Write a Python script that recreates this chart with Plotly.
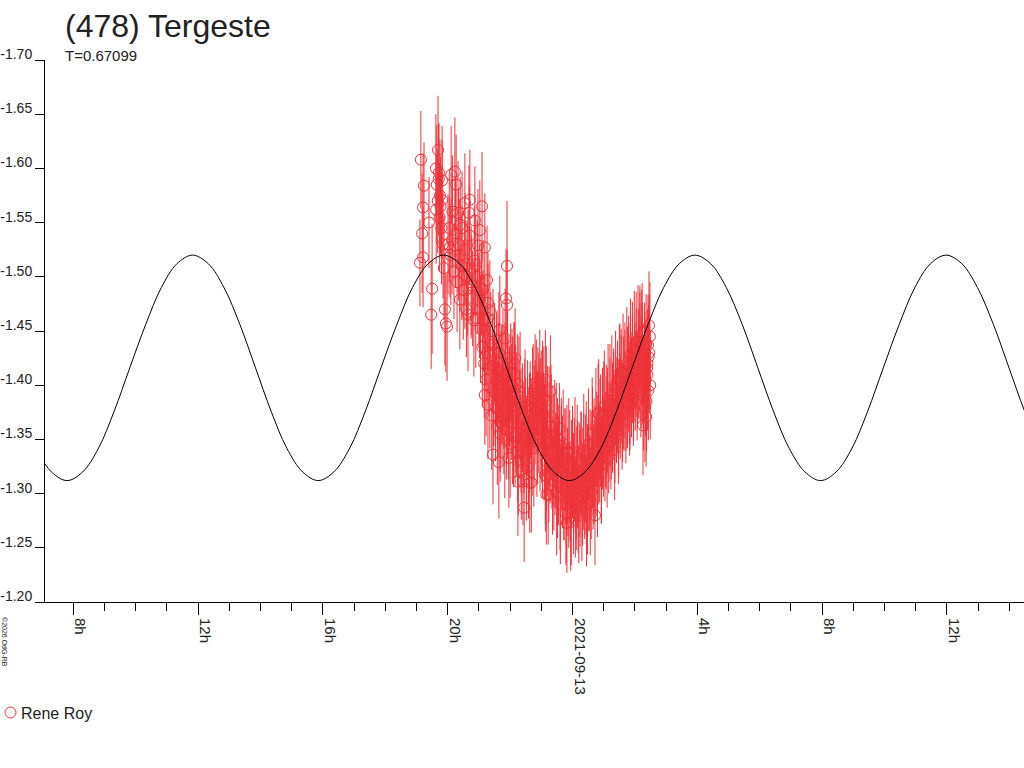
import pandas as pd
import plotly.graph_objects as go

# lightcurve of (478) Tergeste, times in hours from 2021-09-12 00:00 UT
BASE = pd.Timestamp("2021-09-12 00:00")

obs_hours = [
    19.11, 19.14, 19.18, 19.21, 19.21, 19.24, 19.40, 19.47, 19.50, 19.62,
    19.63, 19.65, 19.68, 19.69, 19.71, 19.72, 19.74, 19.75, 19.77, 19.80,
    19.82, 19.82, 19.85, 19.88, 19.91, 19.94, 19.98, 20.01, 20.05, 20.07,
    20.10, 20.11, 20.14, 20.15, 20.20, 20.23, 20.25, 20.27, 20.30, 20.33,
    20.35, 20.39, 20.39, 20.40, 20.45, 20.46, 20.50, 20.55, 20.55, 20.55,
    20.60, 20.62, 20.62, 20.65, 20.65, 20.68, 20.70, 20.71, 20.75, 20.77,
    20.80, 20.84, 20.85, 20.87, 20.90, 20.90, 20.95, 20.97, 21.00, 21.02,
    21.03, 21.05, 21.08, 21.10, 21.11, 21.13, 21.14, 21.17, 21.19, 21.19,
    21.19, 21.20, 21.23, 21.26, 21.26, 21.29, 21.29, 21.29, 21.32, 21.35,
    21.35, 21.38, 21.41, 21.44, 21.45, 21.45, 21.47, 21.50, 21.53, 21.56,
    21.58, 21.59, 21.62, 21.64, 21.65, 21.67, 21.68, 21.71, 21.74, 21.77,
    21.77, 21.80, 21.83, 21.84, 21.86, 21.87, 21.89, 21.90, 21.90, 21.92,
    21.95, 21.96, 21.98, 22.02, 22.05, 22.06, 22.08, 22.11, 22.14, 22.16,
    22.17, 22.20, 22.23, 22.25, 22.26, 22.29, 22.32, 22.35, 22.38, 22.41,
    22.44, 22.45, 22.47, 22.50, 22.53, 22.56, 22.59, 22.62, 22.63, 22.65,
    22.68, 22.71, 22.74, 22.77, 22.80, 22.83, 22.86, 22.89, 22.92, 22.95,
    22.98, 23.01, 23.04, 23.07, 23.10, 23.13, 23.13, 23.13, 23.16, 23.16,
    23.19, 23.22, 23.25, 23.28, 23.29, 23.31, 23.34, 23.37, 23.40, 23.43,
    23.46, 23.49, 23.52, 23.55, 23.58, 23.61, 23.64, 23.67, 23.70, 23.73,
    23.76, 23.79, 23.82, 23.82, 23.85, 23.88, 23.91, 23.94, 23.97, 24.00,
    24.03, 24.06, 24.09, 24.12, 24.15, 24.18, 24.21, 24.24, 24.27, 24.30,
    24.33, 24.36, 24.39, 24.42, 24.45, 24.48, 24.51, 24.54, 24.57, 24.60,
    24.63, 24.66, 24.69, 24.72, 24.72, 24.75, 24.78, 24.81, 24.82, 24.84,
    24.87, 24.90, 24.93, 24.96, 24.99, 25.02, 25.05, 25.08, 25.11, 25.14,
    25.17, 25.20, 25.23, 25.26, 25.29, 25.32, 25.35, 25.38, 25.41, 25.44,
    25.47, 25.50, 25.52, 25.53, 25.56, 25.59, 25.62, 25.65, 25.68, 25.71,
    25.74, 25.77, 25.80, 25.83, 25.84, 25.86, 25.89, 25.92, 25.95, 25.98,
    26.01, 26.04, 26.07, 26.10, 26.13, 26.16, 26.16, 26.19, 26.22, 26.23,
    26.25, 26.26, 26.28, 26.31, 26.32, 26.34, 26.36, 26.37, 26.39, 26.40,
    26.42, 26.43, 26.45, 26.46, 26.49,
    # second night block, interleaved
    21.52, 21.56, 21.60, 21.64, 21.68, 21.72, 21.76, 21.80, 21.84, 21.88,
    21.92, 21.96, 22.00, 22.04, 22.08, 22.12, 22.16, 22.20, 22.24, 22.28,
    22.32, 22.36, 22.40, 22.44, 22.48, 22.52, 22.56, 22.60, 22.64, 22.68,
    22.72, 22.76, 22.80, 22.84, 22.88, 22.92, 22.96, 23.00, 23.04, 23.08,
    23.12, 23.16, 23.20, 23.24, 23.28, 23.32, 23.36, 23.40, 23.44, 23.48,
    23.52, 23.56, 23.60, 23.64, 23.68, 23.72, 23.76, 23.80, 23.84, 23.88,
    23.92, 23.96, 24.00, 24.04, 24.08, 24.12, 24.16, 24.20, 24.24, 24.28,
    24.32, 24.36, 24.40, 24.44, 24.48, 24.52, 24.56, 24.60, 24.64, 24.68,
    24.72, 24.76, 24.80, 24.84, 24.88, 24.92, 24.96, 25.00, 25.04, 25.08,
    25.12, 25.16, 25.20, 25.24, 25.28, 25.32, 25.36, 25.40, 25.44, 25.48,
    25.52, 25.56, 25.60, 25.64, 25.68, 25.72, 25.76, 25.80, 25.84, 25.88,
    25.92, 25.96, 26.00, 26.04, 26.08, 26.12, 26.16, 26.20, 26.24, 26.28,
    26.32, 26.36, 26.40, 26.44, 26.48,
]
obs_mag = [
    -1.513, -1.608, -1.540, -1.564, -1.518, -1.584, -1.550, -1.465, -1.489, -1.600,
    -1.562, -1.585, -1.570, -1.617, -1.590, -1.596, -1.555, -1.575, -1.565, -1.545,
    -1.589, -1.571, -1.530, -1.508, -1.470, -1.457, -1.454, -1.530, -1.545, -1.527,
    -1.520, -1.594, -1.534, -1.560, -1.505, -1.597, -1.540, -1.585, -1.495, -1.559,
    -1.530, -1.520, -1.479, -1.548, -1.510, -1.545, -1.488, -1.568, -1.525, -1.502,
    -1.470, -1.500, -1.489, -1.465, -1.512, -1.559, -1.538, -1.571, -1.495, -1.492,
    -1.480, -1.460, -1.515, -1.552, -1.511, -1.462, -1.500, -1.529, -1.478, -1.470,
    -1.543, -1.452, -1.488, -1.565, -1.435, -1.488, -1.460, -1.420, -1.527, -1.451,
    -1.391, -1.445, -1.405, -1.497, -1.430, -1.476, -1.462, -1.382, -1.415, -1.469,
    -1.398, -1.440, -1.372, -1.418, -1.437, -1.336, -1.395, -1.430, -1.380, -1.405,
    -1.423, -1.362, -1.412, -1.329, -1.388, -1.451, -1.355, -1.398, -1.372, -1.420,
    -1.409, -1.385, -1.350, -1.443, -1.402, -1.480, -1.376, -1.510, -1.474, -1.425,
    -1.365, -1.333, -1.390, -1.412, -1.371, -1.400, -1.395, -1.348, -1.420, -1.425,
    -1.382, -1.356, -1.401, -1.311, -1.330, -1.374, -1.389, -1.345, -1.368, -1.311,
    -1.352, -1.287, -1.379, -1.362, -1.338, -1.381, -1.325, -1.356, -1.310, -1.372,
    -1.310, -1.348, -1.395, -1.366, -1.402, -1.378, -1.355, -1.391, -1.369, -1.405,
    -1.383, -1.360, -1.394, -1.372, -1.348, -1.317, -1.405, -1.317, -1.386, -1.299,
    -1.340, -1.299, -1.362, -1.335, -1.394, -1.371, -1.326, -1.348, -1.312, -1.355,
    -1.330, -1.301, -1.342, -1.321, -1.360, -1.290, -1.333, -1.315, -1.346, -1.303,
    -1.327, -1.282, -1.338, -1.273, -1.311, -1.296, -1.325, -1.274, -1.318, -1.337,
    -1.300, -1.322, -1.287, -1.310, -1.338, -1.295, -1.320, -1.305, -1.331, -1.288,
    -1.315, -1.340, -1.302, -1.323, -1.281, -1.318, -1.345, -1.310, -1.293, -1.330,
    -1.355, -1.312, -1.338, -1.320, -1.280, -1.362, -1.327, -1.345, -1.374, -1.374,
    -1.336, -1.358, -1.319, -1.366, -1.343, -1.380, -1.350, -1.369, -1.333, -1.386,
    -1.357, -1.375, -1.348, -1.392, -1.365, -1.381, -1.340, -1.398, -1.372, -1.387,
    -1.355, -1.404, -1.407, -1.378, -1.396, -1.366, -1.412, -1.385, -1.401, -1.374,
    -1.420, -1.390, -1.407, -1.381, -1.396, -1.428, -1.398, -1.415, -1.388, -1.433,
    -1.404, -1.421, -1.395, -1.440, -1.412, -1.446, -1.425, -1.398, -1.436, -1.448,
    -1.410, -1.363, -1.390, -1.430, -1.379, -1.405, -1.371, -1.385, -1.416, -1.420,
    -1.437, -1.395, -1.455, -1.430, -1.400,
    -1.392, -1.415, -1.378, -1.430, -1.366, -1.405, -1.388, -1.372, -1.410, -1.359,
    -1.384, -1.401, -1.346, -1.392, -1.365, -1.410, -1.352, -1.377, -1.338, -1.395,
    -1.360, -1.322, -1.370, -1.348, -1.385, -1.331, -1.362, -1.345, -1.378, -1.356,
    -1.389, -1.342, -1.375, -1.398, -1.361, -1.384, -1.352, -1.376, -1.340, -1.388,
    -1.355, -1.330, -1.368, -1.318, -1.347, -1.362, -1.308, -1.340, -1.324, -1.352,
    -1.315, -1.336, -1.298, -1.344, -1.320, -1.305, -1.332, -1.290, -1.316, -1.338,
    -1.302, -1.286, -1.325, -1.308, -1.333, -1.294, -1.318, -1.280, -1.312, -1.327,
    -1.298, -1.320, -1.306, -1.335, -1.290, -1.317, -1.330, -1.302, -1.342, -1.318,
    -1.331, -1.350, -1.312, -1.338, -1.360, -1.326, -1.348, -1.372, -1.339, -1.356,
    -1.368, -1.344, -1.382, -1.359, -1.371, -1.390, -1.362, -1.378, -1.395, -1.370,
    -1.386, -1.402, -1.375, -1.393, -1.410, -1.384, -1.398, -1.418, -1.390, -1.405,
    -1.425, -1.397, -1.412, -1.432, -1.405, -1.420, -1.440, -1.412, -1.428, -1.402,
    -1.418, -1.438, -1.410, -1.426, -1.445,
]
obs_err = [
    0.040, 0.045, 0.055, 0.050, 0.046, 0.040, 0.042, 0.050, 0.060, 0.050,
    0.050, 0.055, 0.048, 0.050, 0.052, 0.045, 0.050, 0.052, 0.046, 0.052,
    0.050, 0.055, 0.050, 0.048, 0.052, 0.045, 0.050, 0.046, 0.050, 0.046,
    0.046, 0.045, 0.050, 0.052, 0.044, 0.050, 0.050, 0.046, 0.046, 0.048,
    0.052, 0.052, 0.046, 0.044, 0.050, 0.052, 0.046, 0.046, 0.052, 0.050,
    0.044, 0.052, 0.044, 0.052, 0.050, 0.044, 0.046, 0.046, 0.052, 0.046,
    0.044, 0.052, 0.050, 0.050, 0.046, 0.046, 0.052, 0.052, 0.044, 0.045,
    0.046, 0.050, 0.042, 0.050, 0.055, 0.046, 0.046, 0.050, 0.050, 0.050,
    0.046, 0.044, 0.052, 0.050, 0.046, 0.046, 0.050, 0.050, 0.044, 0.046,
    0.056, 0.046, 0.050, 0.044, 0.052, 0.046, 0.052, 0.046, 0.050, 0.044,
    0.046, 0.054, 0.046, 0.052, 0.050, 0.050, 0.044, 0.052, 0.046, 0.050,
    0.046, 0.044, 0.054, 0.046, 0.046, 0.046, 0.050, 0.060, 0.050, 0.044,
    0.052, 0.046, 0.046, 0.045, 0.040, 0.052, 0.050, 0.042, 0.038, 0.046,
    0.055, 0.040, 0.046, 0.050, 0.050, 0.042, 0.060, 0.044, 0.048, 0.040,
    0.052, 0.050, 0.045, 0.045, 0.050, 0.042, 0.048, 0.055, 0.046, 0.040,
    0.046, 0.050, 0.043, 0.052, 0.045, 0.040, 0.058, 0.044, 0.050, 0.046,
    0.042, 0.050, 0.047, 0.040, 0.053, 0.045, 0.046, 0.052, 0.050, 0.046,
    0.042, 0.046, 0.055, 0.044, 0.052, 0.048, 0.040, 0.052, 0.046, 0.050,
    0.044, 0.058, 0.046, 0.050, 0.042, 0.055, 0.048, 0.044, 0.050, 0.046,
    0.052, 0.048, 0.044, 0.046, 0.050, 0.046, 0.052, 0.045, 0.050, 0.044,
    0.056, 0.048, 0.046, 0.052, 0.044, 0.050, 0.046, 0.054, 0.045, 0.050,
    0.046, 0.052, 0.044, 0.050, 0.048, 0.046, 0.052, 0.044, 0.050, 0.046,
    0.052, 0.045, 0.050, 0.046, 0.046, 0.054, 0.048, 0.046, 0.046, 0.050,
    0.044, 0.052, 0.046, 0.050, 0.046, 0.052, 0.044, 0.050, 0.046, 0.052,
    0.046, 0.050, 0.044, 0.054, 0.046, 0.050, 0.046, 0.052, 0.044, 0.050,
    0.046, 0.052, 0.050, 0.046, 0.050, 0.044, 0.054, 0.046, 0.050, 0.046,
    0.052, 0.044, 0.050, 0.046, 0.050, 0.052, 0.046, 0.050, 0.044, 0.054,
    0.046, 0.050, 0.046, 0.052, 0.044, 0.046, 0.050, 0.046, 0.052, 0.046,
    0.046, 0.046, 0.050, 0.046, 0.050, 0.052, 0.046, 0.046, 0.046, 0.050,
    0.046, 0.046, 0.050, 0.054, 0.050,
    0.048, 0.052, 0.044, 0.056, 0.046, 0.050, 0.042, 0.054, 0.048, 0.046,
    0.052, 0.044, 0.050, 0.046, 0.056, 0.048, 0.044, 0.052, 0.046, 0.050,
    0.054, 0.046, 0.050, 0.042, 0.048, 0.056, 0.046, 0.052, 0.044, 0.050,
    0.046, 0.054, 0.048, 0.044, 0.052, 0.046, 0.050, 0.056, 0.044, 0.048,
    0.052, 0.046, 0.050, 0.044, 0.054, 0.048, 0.046, 0.052, 0.044, 0.050,
    0.056, 0.046, 0.050, 0.044, 0.052, 0.048, 0.046, 0.054, 0.044, 0.050,
    0.046, 0.052, 0.048, 0.044, 0.056, 0.046, 0.050, 0.044, 0.052, 0.048,
    0.046, 0.054, 0.044, 0.050, 0.046, 0.052, 0.048, 0.044, 0.056, 0.046,
    0.050, 0.044, 0.052, 0.048, 0.046, 0.054, 0.044, 0.050, 0.046, 0.052,
    0.048, 0.044, 0.056, 0.046, 0.050, 0.044, 0.052, 0.048, 0.046, 0.054,
    0.044, 0.050, 0.046, 0.052, 0.048, 0.044, 0.056, 0.046, 0.050, 0.044,
    0.052, 0.048, 0.046, 0.054, 0.044, 0.050, 0.046, 0.052, 0.048, 0.044,
    0.050, 0.046, 0.052, 0.048, 0.050,
]

# fitted model (T = 0.67099 d, two maxima per rotation), read at 1/16-cycle steps
model_hours = [
    6.79, 7.30,
    7.80, 8.30, 8.81, 9.31, 9.81, 10.32, 10.82, 11.32,
    11.82, 12.33, 12.83, 13.34, 13.84, 14.34, 14.84, 15.35,
    15.85, 16.35, 16.86, 17.36, 17.86, 18.37, 18.87, 19.37,
    19.87, 20.38, 20.88, 21.39, 21.89, 22.39, 22.89, 23.40,
    23.90, 24.40, 24.91, 25.41, 25.91, 26.42, 26.92, 27.42,
    27.92, 28.43, 28.93, 29.44, 29.94, 30.44, 30.94, 31.45,
    31.95, 32.45, 32.96, 33.46, 33.96, 34.47, 34.97, 35.47,
    35.97, 36.48, 36.98, 37.49, 37.99, 38.49, 38.99,
]
model_mag = [
    -1.342, -1.320,
    -1.312, -1.320, -1.342, -1.376, -1.416, -1.456, -1.490, -1.512,
    -1.520, -1.512, -1.490, -1.456, -1.416, -1.376, -1.342, -1.320,
    -1.312, -1.320, -1.342, -1.376, -1.416, -1.456, -1.490, -1.512,
    -1.520, -1.512, -1.490, -1.456, -1.416, -1.376, -1.342, -1.320,
    -1.312, -1.320, -1.342, -1.376, -1.416, -1.456, -1.490, -1.512,
    -1.520, -1.512, -1.490, -1.456, -1.416, -1.376, -1.342, -1.320,
    -1.312, -1.320, -1.342, -1.376, -1.416, -1.456, -1.490, -1.512,
    -1.520, -1.512, -1.490, -1.456, -1.416, -1.376, -1.342,
]

y_ticks = [-1.70, -1.65, -1.60, -1.55, -1.50, -1.45, -1.40, -1.35, -1.30, -1.25, -1.20]
y_ticktext = ["-1.70", "-1.65", "-1.60", "-1.55", "-1.50", "-1.45", "-1.40",
              "-1.35", "-1.30", "-1.25", "-1.20"]
x_tick_hours = [8, 12, 16, 20, 24, 28, 32, 36]
x_ticktext = ["8h", "12h", "16h", "20h", "2021-09-13", "4h", "8h", "12h"]

RED = "#EE3239"
FONT = "Liberation Sans, Arial, sans-serif"


def _t(hours):
    return BASE + pd.to_timedelta(pd.Series(hours), unit="h")


fig = go.Figure()
fig.add_trace(go.Scatter(
    x=_t(obs_hours), y=obs_mag, mode="markers", name="Rene Roy",
    marker=dict(symbol="circle-open", size=11, color=RED, line=dict(width=1, color=RED)),
    error_y=dict(type="data", array=obs_err, visible=True, color=RED, thickness=1, width=0),
    showlegend=False,
))
fig.add_trace(go.Scatter(
    x=_t(model_hours), y=model_mag, mode="lines",
    line=dict(color="black", width=1, shape="spline"),
    showlegend=False, hoverinfo="skip",
))

fig.update_layout(
    width=1024, height=768,
    margin=dict(l=45, r=0, t=60, b=166),
    paper_bgcolor="white", plot_bgcolor="white",
    font=dict(family=FONT, size=16, color="#222222"),
    xaxis=dict(
        range=[BASE + pd.Timedelta(hours=7.093), BASE + pd.Timedelta(hours=38.47)],
        tickmode="array", tickvals=list(_t(x_tick_hours)), ticktext=x_ticktext,
        tickfont=dict(size=15),
        tickangle=90, ticks="outside", ticklen=12, tickwidth=1, tickcolor="black",
        ticklabelshift=7, ticklabelstandoff=0, automargin=False,
        minor=dict(tickmode="linear", tick0=BASE, dtick=3600000, ticks="outside",
                   ticklen=8, tickwidth=1, tickcolor="black", showgrid=False),
        showline=True, linecolor="black", linewidth=1,
        showgrid=False, zeroline=False,
    ),
    yaxis=dict(
        range=[-1.20, -1.70],
        tickmode="array", tickvals=y_ticks, ticktext=y_ticktext,
        tickfont=dict(size=14),
        ticks="outside", ticklen=9, tickwidth=1, tickcolor="black",
        ticklabelshift=6, ticklabelstandoff=0, automargin=False,
        showline=True, linecolor="black", linewidth=1,
        showgrid=False, zeroline=False,
    ),
    annotations=[
        dict(text="(478) Tergeste", xref="paper", yref="paper", x=0, y=1,
             xanchor="left", yanchor="middle", xshift=18, yshift=34,
             showarrow=False, font=dict(size=32, color="#222222")),
        dict(text="T=0.67099", xref="paper", yref="paper", x=0, y=1,
             xanchor="left", yanchor="middle", xshift=18, yshift=5,
             showarrow=False, font=dict(size=15, color="#222222")),
        dict(text="©2026 OdG-RB", xref="paper", yref="paper", x=0, y=0,
             xanchor="center", yanchor="middle", xshift=-40, yshift=-40,
             textangle=90, showarrow=False, font=dict(size=7, color="#222222")),
        dict(text="Rene Roy", xref="paper", yref="paper", x=0, y=0,
             xanchor="left", yanchor="middle", xshift=-26, yshift=-111,
             showarrow=False, font=dict(size=16, color="#222222")),
    ],
    shapes=[
        dict(type="circle", xref="paper", yref="paper", xsizemode="pixel", ysizemode="pixel",
             xanchor=0, yanchor=0, x0=-40, x1=-29, y0=-105, y1=-116,
             line=dict(color=RED, width=1)),
    ],
)

# drop the default 8px page margin so the chart sits at the window's corner
fig.write_html("out.html", config={"displayModeBar": False},
               post_script="document.body.style.margin='0';")
